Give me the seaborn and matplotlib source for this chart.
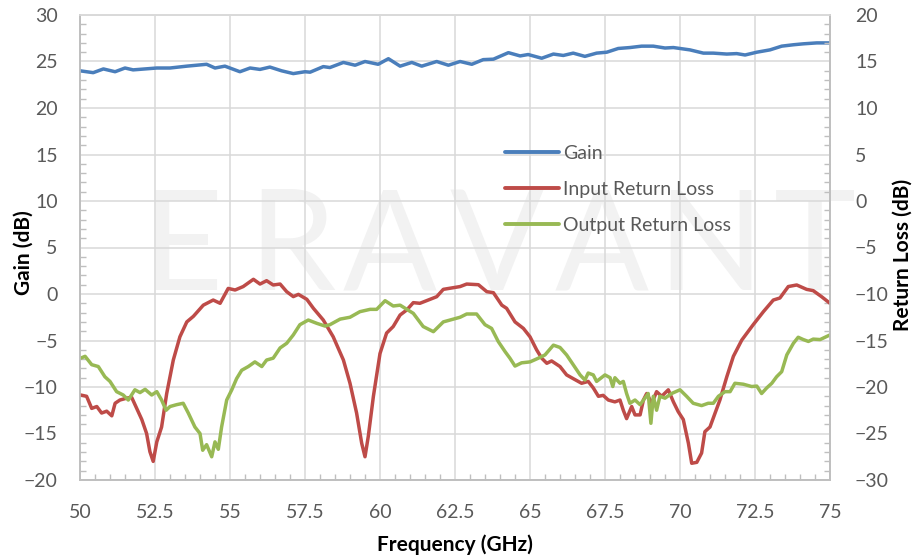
import matplotlib
matplotlib.use("Agg")
import matplotlib.pyplot as plt
import seaborn as sns
import pandas as pd
from matplotlib.ticker import MultipleLocator, FuncFormatter
from matplotlib.lines import Line2D

# ---------------- data ----------------
gain_freq = [50.0, 50.44, 50.78, 51.17, 51.5, 51.77, 52.56, 53.0, 53.56, 54.22, 54.5, 54.83,
             55.33, 55.67, 56.0, 56.33, 56.72, 57.11, 57.5, 57.67, 58.11, 58.33, 58.78, 59.17,
             59.5, 59.94, 60.28, 60.67, 61.06, 61.39, 61.89, 62.28, 62.67,
             63.06, 63.44, 63.78, 64.28, 64.67, 64.94, 65.39, 65.78, 66.11, 66.44, 66.83,
             67.22, 67.56, 67.94, 68.33, 68.72, 69.11, 69.5, 69.78, 70.33, 70.78, 71.11,
             71.56, 71.89, 72.17, 72.56, 73.0, 73.39, 73.78, 74.11, 74.56, 75.0]
gain_db = [24.0, 23.8, 24.2, 23.9, 24.3, 24.1, 24.3, 24.3, 24.5, 24.7, 24.3, 24.5, 23.9, 24.3,
           24.15, 24.4, 24.0, 23.7, 23.9, 23.85, 24.45, 24.35, 24.9, 24.6, 25.0, 24.7, 25.3,
           24.5, 24.9, 24.5, 25.0, 24.6, 25.0,
           24.7, 25.2, 25.25, 25.95, 25.6, 25.75, 25.35, 25.8, 25.65, 25.9, 25.55, 25.9, 26.0,
           26.4, 26.5, 26.65, 26.65, 26.45, 26.5, 26.25, 25.9, 25.9, 25.8, 25.85, 25.7, 26.0,
           26.25, 26.65, 26.8, 26.9, 27.0, 27.0]

irl_freq = [50.02, 50.22, 50.39, 50.56, 50.72, 50.89, 51.06, 51.17, 51.33, 51.56,
            51.72, 51.89, 52.06, 52.22, 52.33, 52.44, 52.56, 52.72, 52.89, 53.11,
            53.33, 53.56, 53.78, 54.11, 54.44, 54.67, 54.94, 55.17, 55.44, 55.78,
            56.0, 56.22, 56.44, 56.67, 56.89, 57.11, 57.28, 57.56, 57.78, 58.11,
            58.44, 58.78, 59.0, 59.22, 59.39, 59.5, 59.61, 59.78, 60.0, 60.22,
            60.44, 60.67, 60.89, 61.11, 61.33, 61.67, 61.89, 62.11, 62.67,
            62.89, 63.28, 63.56, 63.78, 64.06, 64.22, 64.5, 64.78, 65.0, 65.22,
            65.39, 65.56, 65.72, 66.0, 66.22, 66.44, 66.72, 66.94, 67.11, 67.28,
            67.44, 67.61, 67.83, 68.0, 68.11, 68.22, 68.39, 68.5, 68.67, 68.78,
            68.89, 69.06, 69.22, 69.39, 69.61, 69.78, 69.94, 70.11, 70.28, 70.39,
            70.56, 70.72, 70.83, 71.0, 71.17, 71.33, 71.56, 71.78, 72.06, 72.44,
            72.78, 73.11, 73.33, 73.61, 73.89, 74.22, 74.44, 74.72, 75.0]
irl_db = [-20.86, -21.0, -22.3, -22.1, -22.8, -22.6, -23.1, -21.75, -21.4, -21.2,
          -21.1, -22.3, -23.5, -25.0, -26.95, -28.0, -25.9, -24.3, -20.7, -17.1,
          -14.6, -13.0, -12.4, -11.2, -10.65, -11.0, -9.4, -9.57, -9.2, -8.42,
          -8.93, -8.57, -9.03, -8.93, -9.75, -10.28, -10.04, -10.57, -11.54, -12.8,
          -14.6, -17.1, -19.6, -22.8, -26.05, -27.5, -25.3, -21.0, -16.4, -14.2,
          -13.5, -12.26, -11.72, -10.93, -11.0, -10.57, -10.29, -9.5, -9.2,
          -8.93, -9.0, -9.75, -9.86, -11.2, -11.54, -13.0, -13.7, -14.6, -16.0,
          -16.9, -17.45, -17.2, -17.8, -18.7, -19.1, -19.6, -19.4, -20.1, -21.0,
          -20.9, -21.4, -21.6, -21.4, -22.5, -23.4, -22.1, -23.0, -23.0, -21.4,
          -20.7, -21.75, -20.5, -21.0, -20.3, -21.6, -22.65, -23.5, -26.05, -28.2,
          -28.1, -27.1, -24.8, -24.3, -22.8, -21.4, -18.9, -16.7, -14.95, -13.3,
          -11.9, -10.65, -10.43, -9.2, -9.03, -9.5, -9.64, -10.29, -11.0]

orl_freq = [50.02, 50.17, 50.39, 50.61, 50.83, 51.0, 51.22, 51.44, 51.61, 51.83,
            52.0, 52.17, 52.39, 52.56, 52.72, 52.87, 53.0, 53.22, 53.44, 53.61,
            53.83, 54.0, 54.09, 54.22, 54.39, 54.5, 54.61, 54.72, 54.89, 55.06,
            55.22, 55.39, 55.61, 55.83, 56.06, 56.22, 56.44, 56.67, 56.89, 57.11,
            57.33, 57.61, 57.89, 58.17, 58.33, 58.67, 59.0, 59.33, 59.67, 59.89,
            60.17, 60.44, 60.67, 61.11, 61.44, 61.78, 62.11, 62.67,
            62.89, 63.22, 63.5, 63.72, 63.94, 64.17, 64.33, 64.5, 64.72, 65.0,
            65.28, 65.5, 65.78, 66.0, 66.22, 66.44, 66.67, 66.83, 66.94, 67.11,
            67.22, 67.5, 67.67, 67.76, 67.83, 68.0, 68.11, 68.22, 68.33, 68.5,
            68.67, 68.83, 68.94, 69.03, 69.11, 69.22, 69.33, 69.5, 69.72, 70.0,
            70.22, 70.44, 70.72, 70.94, 71.11, 71.28, 71.5, 71.67, 71.83, 72.11,
            72.39, 72.56, 72.72, 72.89, 73.06, 73.22, 73.39, 73.56, 73.78, 73.94,
            74.11, 74.28, 74.44, 74.67, 75.0]
orl_db = [-16.9, -16.7, -17.6, -17.8, -18.9, -19.4, -20.5, -20.86, -21.4, -20.3,
          -20.6, -20.25, -20.86, -20.5, -21.4, -22.5, -22.1, -21.9, -21.75, -22.8,
          -24.3, -25.0, -26.8, -26.2, -27.5, -25.9, -26.7, -24.3, -21.4, -20.3,
          -19.1, -18.2, -17.8, -17.3, -17.8, -17.1, -16.9, -15.8, -15.3, -14.4,
          -13.3, -12.8, -13.15, -13.45, -13.3, -12.7, -12.5, -11.9, -11.65, -11.65,
          -10.72, -11.29, -11.2, -12.08, -13.5, -14.05, -13.0, -12.5,
          -12.15, -12.15, -13.3, -13.7, -15.1, -16.2, -16.9, -17.75, -17.4, -17.3,
          -16.9, -16.55, -15.5, -15.75, -16.55, -17.6, -18.7, -19.25, -18.5, -18.7,
          -19.4, -18.7, -19.0, -19.95, -19.0, -19.6, -19.4, -20.7, -21.75, -21.4,
          -21.9, -21.2, -20.7, -23.9, -21.0, -22.5, -21.0, -21.2, -20.7, -20.3,
          -21.0, -21.75, -22.0, -21.75, -21.75, -21.0, -20.5, -20.5, -19.6, -19.7,
          -19.95, -19.9, -20.7, -20.1, -19.6, -18.9, -18.35, -16.55, -15.3, -14.65,
          -14.9, -15.1, -14.85, -14.9, -14.4]

series_names = ["Gain", "Input Return Loss", "Output Return Loss"]
series_colors = ["#4A7EBB", "#BE4B48", "#98B954"]
x_ticks = [50, 52.5, 55, 57.5, 60, 62.5, 65, 67.5, 70, 72.5, 75]

# ---------------- style ----------------
sns.set_theme(style="white")
plt.rcParams["font.family"] = ["Lato", "DejaVu Sans"]

TXT = "#595959"
GRID = "#d9d9d9"
SPINE = "#bfbfbf"

fig = plt.figure(figsize=(9.13, 5.58), dpi=100)
ax = fig.add_axes([80 / 913, 1 - 480 / 558, 750 / 913, 465 / 558])
ax2 = ax.twinx()

gain_df = pd.DataFrame({"freq": gain_freq, "db": gain_db})
rl_df = pd.concat([
    pd.DataFrame({"freq": irl_freq, "db": irl_db, "series": series_names[1]}),
    pd.DataFrame({"freq": orl_freq, "db": orl_db, "series": series_names[2]}),
])

sns.lineplot(data=gain_df, x="freq", y="db", ax=ax, color=series_colors[0],
             linewidth=2.5, legend=False, zorder=3)
sns.lineplot(data=rl_df, x="freq", y="db", hue="series", ax=ax2,
             palette={series_names[1]: series_colors[1], series_names[2]: series_colors[2]},
             hue_order=series_names[1:], linewidth=2.5, legend=False)

# watermark
wm_letters = ["E", "R", "A", "V", "A", "N", "T"]
wm_x = [182, 292, 390, 497, 602, 710, 815]
for ch, xp in zip(wm_letters, wm_x):
    ax.text(xp / 913, 1 - 290 / 558, ch, transform=fig.transFigure, ha="center",
            va="baseline", fontsize=100, fontweight="normal", color="#f2f2f2",
            zorder=0.2, clip_on=False)

# axes ranges
ax.set_xlim(50, 75)
ax.set_ylim(-20, 30)
ax2.set_ylim(-30, 20)

ax.set_xticks(x_ticks)
ax.xaxis.set_major_formatter(FuncFormatter(lambda v, p: f"{v:g}"))
ax.yaxis.set_major_locator(MultipleLocator(5))
ax2.yaxis.set_major_locator(MultipleLocator(5))
ax.xaxis.set_minor_locator(MultipleLocator(0.5))
ax.yaxis.set_minor_locator(MultipleLocator(1))
ax2.yaxis.set_minor_locator(MultipleLocator(1))

ax.grid(True, which="major", color=GRID, linewidth=1.1)
ax.set_axisbelow(True)
ax2.grid(False)

ax.tick_params(axis="both", which="major", length=0, labelsize=14, labelcolor=TXT)
ax.tick_params(axis="x", which="major", pad=17)
ax.tick_params(axis="y", which="major", pad=16)
ax.tick_params(which="minor", direction="in", length=4, width=1, color=SPINE,
               bottom=True, left=True, top=False, right=False)
ax2.tick_params(axis="y", which="major", length=0, labelsize=14, labelcolor=TXT, pad=18)
ax2.tick_params(axis="y", which="minor", direction="in", length=4, width=1,
                color=SPINE, right=True, left=False)

for a in (ax, ax2):
    for s in a.spines.values():
        s.set_color(SPINE)
        s.set_linewidth(1.2)
    a.spines["top"].set_color(GRID)

ax.set_xlabel("Frequency (GHz)", fontsize=15, fontweight="bold", color="black")
ax.set_ylabel("Gain (dB)", fontsize=15, fontweight="bold", color="black")
ax2.set_ylabel("Return Loss (dB)", fontsize=15, fontweight="bold", color="black")
ax.xaxis.set_label_coords(0.5, -0.117)
ax.yaxis.set_label_coords(-0.062, 0.49)
ax2.yaxis.set_label_coords(1.083, 0.484)

handles = [Line2D([0], [0], color=c, lw=2.8) for c in series_colors]
leg = fig.legend(handles, series_names, loc="upper left",
                 bbox_to_anchor=(505 / 913, 1 - 145 / 558), frameon=False,
                 fontsize=14, handlelength=2.8, handletextpad=0.2,
                 labelspacing=0.98, borderpad=0, borderaxespad=0)
for t in leg.get_texts():
    t.set_color(TXT)

fig.savefig("out.png", dpi=100)
